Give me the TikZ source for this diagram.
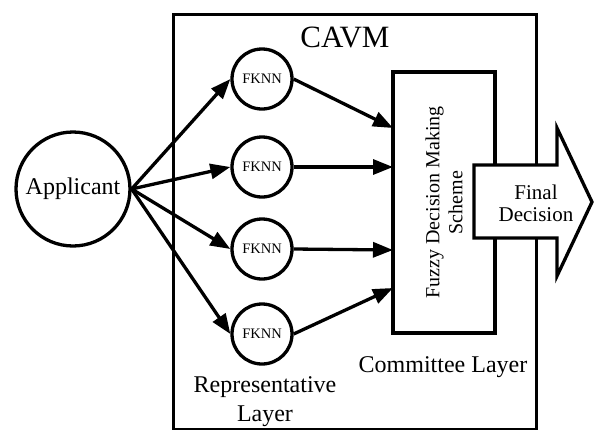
\documentclass[tikz,border=0pt]{standalone}
\usepackage{fontspec}
\setmainfont{Liberation Serif}
\usetikzlibrary{arrows.meta}
\begin{document}
\begin{tikzpicture}[x=1pt,y=-1pt,line width=3.3pt,
  circ/.style={circle,draw,line width=3.3pt,inner sep=0pt,fill=white},
  conn/.style={-{Triangle[length=20pt,width=15pt]},line width=3.3pt},
  lbl/.style={align=center,inner sep=0pt},
  ]
\useasboundingbox (0,0) rectangle (594,429);
% outer CAVM box
\node[draw,line width=3.3pt,minimum width=363pt,minimum height=415pt,anchor=north west,inner sep=0pt] (cavm) at (172,13) {};
\node[lbl,font=\fontsize{31}{34}\selectfont] (cavmt) at (345,37) {CAVM};
% fuzzy decision box
\node[draw,fill=white,line width=3.3pt,rotate=90,minimum width=261pt,minimum height=102pt,inner sep=0pt,
      align=center,font=\fontsize{20}{23}\selectfont] (fz) at (444,202.5) {Fuzzy Decision Making\\Scheme};
% final decision arrow
\draw[fill=white,line width=3.3pt] (474,165) -- (557,165) -- (557,128) -- (592,202) -- (557,276) -- (557,238) -- (474,238) -- cycle;
\node[lbl,font=\fontsize{21}{22}\selectfont] (fd) at (536,203) {Final\\Decision};
% applicant
\node[circ,minimum size=114pt,font=\fontsize{24}{28}\selectfont] (app) at (73,189) {Applicant};
% FKNN nodes
\node[circ,minimum size=60pt,font=\fontsize{14.5}{16}\selectfont] (f1) at (262,79) {FKNN};
\node[circ,minimum size=60pt,font=\fontsize{14.5}{16}\selectfont] (f2) at (262,167) {FKNN};
\node[circ,minimum size=60pt,font=\fontsize{14.5}{16}\selectfont] (f3) at (262,249) {FKNN};
\node[circ,minimum size=60pt,font=\fontsize{14.5}{16}\selectfont] (f4) at (262,334) {FKNN};
% connector ends on fuzzy box
\coordinate (e1) at (393,128);
\coordinate (e2) at (393,167);
\coordinate (e3) at (393,250);
\coordinate (e4) at (393,288);
% connectors
\draw[conn] (app.east) -- (f1.west);
\draw[conn] (app.east) -- (f2.west);
\draw[conn] (app.east) -- (f3.west);
\draw[conn] (app.east) -- (f4.west);
\draw[conn] (f1.east) -- (e1);
\draw[conn] (f2.east) -- (e2);
\draw[conn] (f3.east) -- (e3);
\draw[conn] (f4.east) -- (e4);
% layer labels
\node[lbl,font=\fontsize{24}{29}\selectfont] (comm) at (443,367) {Committee Layer};
\node[lbl,font=\fontsize{24}{29}\selectfont] (rep) at (265,402) {Representative\\Layer};
\end{tikzpicture}
\end{document}
